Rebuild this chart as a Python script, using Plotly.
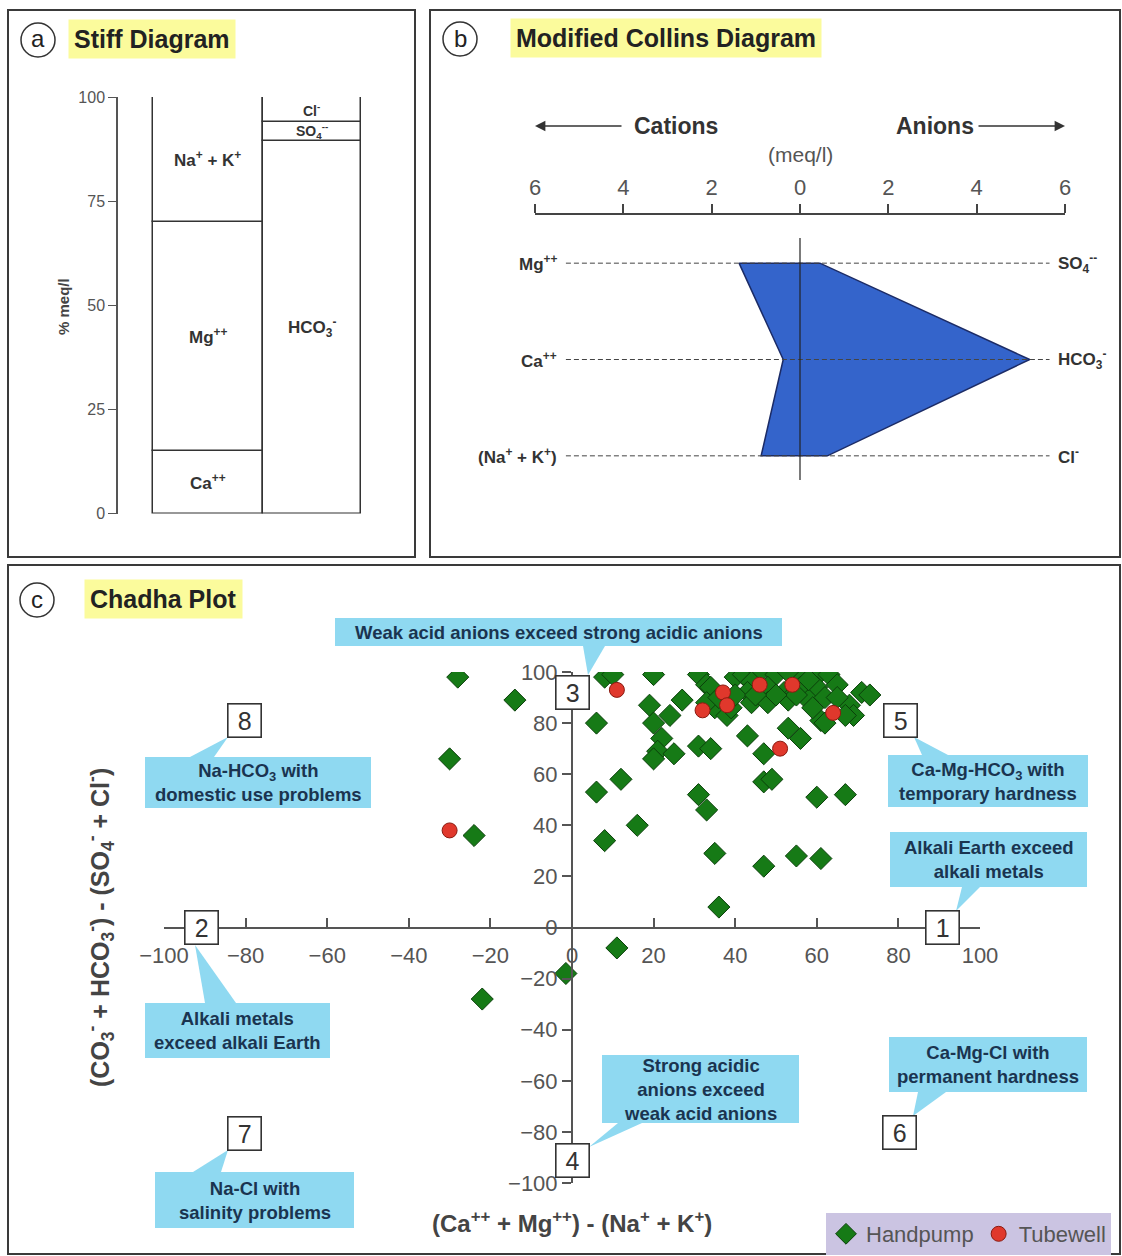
import plotly.graph_objects as go

W, H = 1122, 1256
def PX(x): return x / W
def PY(y): return 1 - y / H

FONT = "Liberation Sans, Arial, sans-serif"

# ---------------- Panel a : Stiff diagram (% meq/l) ----------------
stiff_cations = ["Ca<sup>++</sup>", "Mg<sup>++</sup>", "Na<sup>+</sup> + K<sup>+</sup>"]
stiff_cation_pct = [15, 55, 30]
stiff_anions = ["HCO<sub>3</sub><sup>-</sup>", "SO<sub>4</sub><sup>--</sup>", "Cl<sup>-</sup>"]
stiff_anion_pct = [89.5, 4.5, 6]
stiff_ticks = [0, 25, 50, 75, 100]

# ---------------- Panel b : Modified Collins diagram (meq/l) ----------------
collins_cations = ["Mg<sup>++</sup>", "Ca<sup>++</sup>", "(Na<sup>+</sup> + K<sup>+</sup>)"]
collins_cation_meq = [1.38, 0.38, 0.88]
collins_anions = ["SO<sub>4</sub><sup>--</sup>", "HCO<sub>3</sub><sup>-</sup>", "Cl<sup>-</sup>"]
collins_anion_meq = [0.45, 5.2, 0.62]
collins_ticks = [-6, -4, -2, 0, 2, 4, 6]
collins_ticktext = ["6", "4", "2", "0", "2", "4", "6"]

# ---------------- Panel c : Chadha plot ----------------
handpump_x = [-28, -14, -30, -24, -1.5, -22, 11,
              6, 12, 16, 8, 31, 33, 35, 36, 47, 55, 61, 60, 67, 47, 49,
              8, 10, 6, 20, 19, 24, 20, 27, 22, 21, 20, 25, 31, 34, 31, 33, 35, 38, 43, 53, 56, 47,
              40, 42, 46, 50, 53, 57, 61, 63, 44, 43, 48, 52, 56, 60, 65, 44, 48, 53, 58, 62,
              39, 61, 62, 68, 71, 73, 69, 67, 34, 33, 36, 40, 55, 50, 65, 58, 45, 59]
handpump_y = [98, 89, 66, 36, -18, -28, -8,
              53, 58, 40, 34, 52, 46, 29, 8, 24, 28, 27, 51, 52, 57, 58,
              98, 99, 80, 99, 87, 83, 80, 89, 74, 69, 66, 68, 71, 70, 99, 95, 86, 83, 75, 78, 74, 68,
              98, 99, 100, 99, 100, 98, 100, 99, 96, 92, 94, 92, 94, 94, 95, 88, 88, 89, 89, 90,
              86, 81, 80, 87, 92, 91, 83, 83, 94, 88, 90, 91, 91, 91, 90, 97, 91, 86]
tubewell_x = [-30, 11, 32, 37, 38, 46, 54, 64, 51]
tubewell_y = [38, 93, 85, 92, 87, 95, 95, 84, 70]
chadha_ticks = list(range(-100, 101, 20))

fig = go.Figure()

# ---- panel a bars
cat_base = [sum(stiff_cation_pct[:i]) for i in range(len(stiff_cation_pct))]
an_base = [sum(stiff_anion_pct[:i]) for i in range(len(stiff_anion_pct))]
fig.add_trace(go.Bar(x=[1] * 3, y=stiff_cation_pct, base=cat_base, width=[1.0] * 3,
                     marker=dict(color="white", line=dict(color="#333", width=1.5)),
                     showlegend=False, hoverinfo="skip", xaxis="x", yaxis="y"))
fig.add_trace(go.Bar(x=[1.945] * 3, y=stiff_anion_pct, base=an_base, width=[0.89] * 3,
                     marker=dict(color="white", line=dict(color="#333", width=1.5)),
                     showlegend=False, hoverinfo="skip", xaxis="x", yaxis="y"))

# ---- panel b polygon
rows = [3, 2, 1]
poly_x = [-collins_cation_meq[0], collins_anion_meq[0], collins_anion_meq[1], collins_anion_meq[2],
          -collins_cation_meq[2], -collins_cation_meq[1], -collins_cation_meq[0]]
poly_y = [3, 3, 2, 1, 1, 2, 3]
fig.add_trace(go.Scatter(x=poly_x, y=poly_y, mode="lines", fill="toself",
                         fillcolor="#3464CB", line=dict(color="#1b2b66", width=1.5),
                         showlegend=False, hoverinfo="skip", xaxis="x2", yaxis="y2"))
for r in rows:
    fig.add_trace(go.Scatter(x=[-5.3, 5.65], y=[r, r], mode="lines",
                             line=dict(color="#444", width=1, dash="5px,3px"),
                             showlegend=False, hoverinfo="skip", xaxis="x2", yaxis="y2"))
fig.add_trace(go.Scatter(x=[0, 0], y=[3.26, 0.75], mode="lines",
                         line=dict(color="#222", width=1.2),
                         showlegend=False, hoverinfo="skip", xaxis="x2", yaxis="y2"))

# ---- panel c scatter
fig.add_trace(go.Scatter(x=handpump_x, y=handpump_y, mode="markers", name="Handpump",
                         marker=dict(symbol="diamond", size=17, color="#167a16",
                                     line=dict(color="#0b400b", width=1)),
                         xaxis="x3", yaxis="y3"))
fig.add_trace(go.Scatter(x=tubewell_x, y=tubewell_y, mode="markers", name="Tubewell",
                         marker=dict(symbol="circle", size=15, color="#e0382c",
                                     line=dict(color="#8a1a10", width=1)),
                         xaxis="x3", yaxis="y3"))

shapes = []
annotations = []

def note(text, x, y, **kw):
    d = dict(text=text, x=x, y=y, xref="paper", yref="paper", showarrow=False,
             xanchor="center", yanchor="middle")
    d.update(kw)
    annotations.append(d)

# panel frames
for (x0, y0, x1, y1) in [(8, 10, 415, 557), (430, 10, 1120, 557), (8, 565, 1120, 1254)]:
    shapes.append(dict(type="rect", xref="paper", yref="paper", x0=PX(x0), x1=PX(x1),
                       y0=PY(y0), y1=PY(y1), line=dict(color="#3a3a3a", width=2)))

# panel titles
for letter, (cx, cy), title, (tx, ty) in [("a", (38, 40), "Stiff Diagram", (152, 39)),
                                          ("b", (460, 39), "Modified Collins Diagram", (666, 38)),
                                          ("c", (37, 600), "Chadha Plot", (163, 599))]:
    r = 17
    shapes.append(dict(type="circle", xref="paper", yref="paper", x0=PX(cx - r), x1=PX(cx + r),
                       y0=PY(cy + r), y1=PY(cy - r), line=dict(color="#333", width=1.5)))
    note(letter, PX(cx), PY(cy - 1), font=dict(size=24, color="#222", family=FONT))
    note("<b>" + title + "</b>", PX(tx), PY(ty), bgcolor="#fbfb9c", borderpad=5,
         font=dict(size=25, color="#222", family=FONT))

# panel a labels
for i, lab in enumerate(stiff_cations):
    annotations.append(dict(text="<b>" + lab + "</b>", x=1, y=cat_base[i] + stiff_cation_pct[i] / 2,
                            xref="x", yref="y", showarrow=False, xanchor="center", yanchor="middle",
                            font=dict(size=17, color="#333", family=FONT)))
for i, lab in enumerate(stiff_anions):
    annotations.append(dict(text="<b>" + lab + "</b>", x=1.945, y=an_base[i] + stiff_anion_pct[i] / 2,
                            xref="x", yref="y", showarrow=False, xanchor="center", yanchor="middle",
                            font=dict(size=17 if i == 0 else 14, color="#333", family=FONT)))
note("<b>% meq/l</b>", PX(63), PY(307), textangle=-90, font=dict(size=15, color="#444", family=FONT))

# panel b labels
for i, r in enumerate(rows):
    annotations.append(dict(text="<b>" + collins_cations[i] + "</b>", x=-5.45, y=r, xref="x2", yref="y2",
                            xanchor="right", yanchor="middle", showarrow=False,
                            font=dict(size=17, color="#333", family=FONT)))
    annotations.append(dict(text="<b>" + collins_anions[i] + "</b>", x=5.8, y=r, xref="x2", yref="y2",
                            xanchor="left", yanchor="middle", showarrow=False,
                            font=dict(size=17, color="#333", family=FONT)))
note("<b>Cations</b>", PX(676), PY(126), font=dict(size=23, color="#333", family=FONT))
note("<b>Anions</b>", PX(935), PY(126), font=dict(size=23, color="#333", family=FONT))
note("(meq/l)", PX(800), PY(155), font=dict(size=21, color="#555", family=FONT))
annotations.append(dict(text="", x=PX(535), y=PY(126), ax=88, ay=0, xref="paper", yref="paper",
                        axref="pixel", ayref="pixel", showarrow=True, arrowhead=2, arrowsize=1.3,
                        arrowwidth=1.6, arrowcolor="#333"))
annotations.append(dict(text="", x=PX(1065), y=PY(126), ax=-88, ay=0, xref="paper", yref="paper",
                        axref="pixel", ayref="pixel", showarrow=True, arrowhead=2, arrowsize=1.3,
                        arrowwidth=1.6, arrowcolor="#333"))

# panel c callouts
CYAN = "#8fd9f1"
callouts = [
    ("Weak acid anions exceed strong acidic anions", (335, 618, 782, 646), [(583, 646), (605, 646), (588, 675)]),
    ("Na-HCO<sub>3</sub> with<br>domestic use problems", (145, 757, 371, 808), [(190, 757), (214, 757), (228, 737)]),
    ("Ca-Mg-HCO<sub>3</sub> with<br>temporary hardness", (888, 755, 1088, 807), [(922, 755), (948, 755), (914, 737)]),
    ("Alkali Earth exceed<br>alkali metals", (890, 832, 1087, 887), [(962, 887), (980, 887), (956, 911)]),
    ("Alkali metals<br>exceed alkali Earth", (145, 1003, 330, 1058), [(205, 1003), (236, 1003), (195, 945)]),
    ("Strong acidic<br>anions exceed<br>weak acid anions", (602, 1055, 799, 1123), [(618, 1123), (642, 1123), (589, 1147)]),
    ("Ca-Mg-Cl with<br>permanent hardness", (889, 1037, 1087, 1092), [(918, 1092), (946, 1092), (913, 1116)]),
    ("Na-Cl with<br>salinity problems", (155, 1172, 354, 1228), [(193, 1172), (221, 1172), (228, 1150)]),
]
for text, (x0, y0, x1, y1), tail in callouts:
    path = "M {} {} L {} {} L {} {} Z".format(PX(tail[0][0]), PY(tail[0][1]), PX(tail[1][0]), PY(tail[1][1]),
                                             PX(tail[2][0]), PY(tail[2][1]))
    shapes.append(dict(type="path", path=path, xref="paper", yref="paper", fillcolor=CYAN,
                       line=dict(width=0), layer="above"))
    shapes.append(dict(type="rect", xref="paper", yref="paper", x0=PX(x0), x1=PX(x1), y0=PY(y1), y1=PY(y0),
                       fillcolor=CYAN, line=dict(width=0), layer="above"))
    note("<b>" + text + "</b>", PX((x0 + x1) / 2), PY((y0 + y1) / 2), align="center",
         font=dict(size=18.5, color="#1a3450", family=FONT))

# numbered boxes
for num, (bx, by) in [("1", (942, 928)), ("2", (201, 928)), ("3", (572, 692)), ("4", (572, 1160)),
                      ("5", (900, 720)), ("6", (899, 1132)), ("7", (244, 1133)), ("8", (244, 720))]:
    note(num, PX(bx), PY(by), bgcolor="white", bordercolor="#333", borderwidth=1.6, borderpad=2,
         width=28, height=28, font=dict(size=25, color="#333", family=FONT))

note("<b>(Ca<sup>++</sup> + Mg<sup>++</sup>) - (Na<sup>+</sup> + K<sup>+</sup>)</b>", PX(572), PY(1222),
     font=dict(size=24, color="#444", family=FONT))
note("<b>(CO<sub>3</sub><sup>-</sup> + HCO<sub>3</sub><sup>-</sup>) - (SO<sub>4</sub><sup>-</sup> + Cl<sup>-</sup>)</b>",
     PX(100), PY(928), textangle=-90, font=dict(size=25, color="#444", family=FONT))

fig.update_layout(
    width=W, height=H, margin=dict(l=0, r=0, t=0, b=0, pad=0, autoexpand=False),
    paper_bgcolor="white", plot_bgcolor="rgba(0,0,0,0)",
    font=dict(family=FONT, color="#444"),
    barmode="overlay", bargap=0,
    shapes=shapes, annotations=annotations,
    showlegend=True,
    legend=dict(x=PX(826), y=PY(1213), xanchor="left", yanchor="top", orientation="h",
                bgcolor="#cbc4e2", font=dict(size=22, color="#555", family=FONT),
                itemwidth=30, tracegroupgap=0, borderwidth=0),
    # panel a
    xaxis=dict(domain=[PX(118), PX(390)], range=[0.182, 2.655], visible=False, fixedrange=True),
    yaxis=dict(domain=[PY(513.5), PY(97)], range=[0, 100], anchor="x", showline=True, linecolor="#555",
               linewidth=1.5, ticks="outside", ticklen=8, tickcolor="#555", tickvals=stiff_ticks,
               tickfont=dict(size=16, color="#555"), showgrid=False, zeroline=False),
    # panel b
    xaxis2=dict(domain=[PX(535), PX(1065)], range=[-6, 6], side="top", anchor="free", position=PY(214),
                showline=True, linecolor="#444", linewidth=2, ticks="outside", ticklen=9, tickcolor="#444",
                tickwidth=2, tickvals=collins_ticks, ticktext=collins_ticktext,
                tickfont=dict(size=22, color="#555"), showgrid=False, zeroline=False),
    yaxis2=dict(domain=[PY(504), PY(215)], range=[0.5, 3.5], visible=False, anchor="x2"),
    # panel c
    xaxis3=dict(domain=[PX(164), PX(980)], range=[-100, 100], anchor="free", position=PY(927.5),
                showline=True, linecolor="#555", linewidth=2, ticks="inside", ticklen=9, tickwidth=1.5,
                tickcolor="#555", tickvals=chadha_ticks, tickfont=dict(size=22, color="#555"),
                ticklabelstandoff=8, showgrid=False, zeroline=False),
    yaxis3=dict(domain=[PY(1183), PY(672)], range=[-100, 100], anchor="free", position=PX(572),
                showline=True, linecolor="#555", linewidth=2, ticks="outside", ticklen=9, tickwidth=1.5,
                tickcolor="#555", tickvals=chadha_ticks, tickfont=dict(size=22, color="#555"),
                showgrid=False, zeroline=False),
)

fig.write_html("out.html", config={"displayModeBar": False},
               post_script="document.body.style.margin='0';document.body.style.overflow='hidden';")
